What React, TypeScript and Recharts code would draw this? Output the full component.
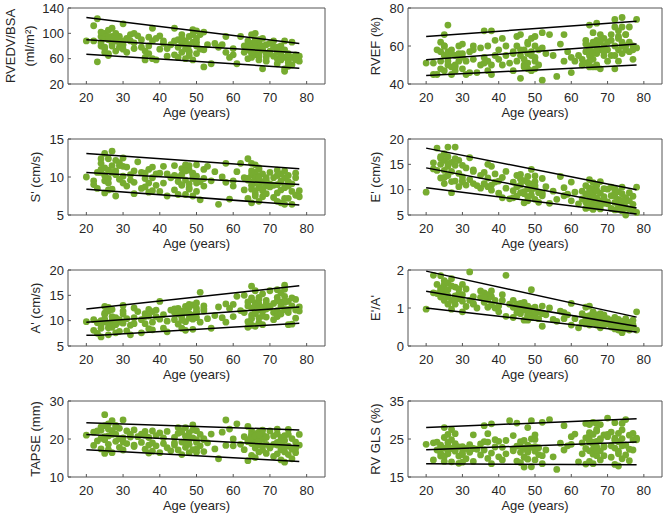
import React from 'react';
import { ComposedChart, Scatter, XAxis, YAxis } from 'recharts';

// Age of each subject (shared by all panels)
const ages = [
  20, 22, 22, 23, 23, 24, 24, 24, 25, 25, 25, 25, 26, 26, 26, 26, 27, 27, 27, 28, 28, 28, 29, 29, 29,
  30, 30, 30, 31, 31, 32, 32, 33, 33, 34, 35, 35, 36, 36, 37, 37, 37, 38, 38, 38, 39, 39,
  40, 40, 41, 41, 42, 42, 43, 44, 44, 45, 45, 45, 46, 46, 46, 47, 47, 47, 48, 48, 48, 48, 49, 49, 49,
  50, 50, 50, 50, 51, 51, 52, 52, 53, 54, 55, 56, 57, 58, 58, 59,
  60, 60, 61, 62, 63, 63, 64, 64, 64, 65, 65, 65, 65, 65, 66, 66, 66, 66, 66, 67, 67, 67, 67, 67, 68, 68, 68, 68, 69, 69, 69,
  70, 70, 71, 71, 71, 72, 72, 72, 72, 73, 73, 73, 73, 74, 74, 74, 74, 75, 75, 75, 76, 76, 76, 77, 77, 78, 78,
  24, 25, 26, 27, 28, 30, 33, 36, 44, 46, 47, 48, 49, 50, 52, 64, 65, 65, 66, 66, 67, 67, 68, 69, 70, 72, 73, 74, 75, 77,
];

const rvedv = [
  88, 112, 88, 123, 55, 80, 95, 85, 100, 70, 92, 78, 68, 90, 105, 65, 108, 80, 95, 100, 88, 72, 95, 78, 85,
  115, 82, 75, 92, 70, 88, 98, 100, 85, 96, 78, 90, 62, 58, 80, 94, 68, 108, 60, 88, 58, 92,
  96, 75, 84, 88, 64, 76, 82, 108, 66, 90, 78, 62, 98, 84, 70, 76, 88, 60, 95, 72, 82, 65, 106, 58, 86,
  104, 80, 92, 68, 75, 98, 102, 47, 82, 52, 84, 78, 82, 70, 95, 62,
  76, 66, 52, 95, 80, 70, 60, 88, 74, 98, 84, 68, 76, 62, 100, 72, 80, 90, 66, 78, 64, 86, 70, 58, 92, 44, 74, 80, 68, 56, 82,
  72, 84, 64, 78, 88, 60, 70, 75, 52, 66, 80, 58, 72, 88, 44, 62, 40, 58, 68, 54, 62, 86, 50, 60, 66, 64, 56,
  102, 76, 95, 84, 92, 88, 76, 72, 88, 92, 82, 70, 98, 86, 74, 82, 70, 80, 86, 76, 66, 90, 74, 62, 68, 78, 62, 74, 48, 58,
];

const rvef = [
  51, 51, 45, 58, 45, 62, 57, 52, 66, 55, 47, 60, 71, 50, 57, 54, 45, 49, 58, 50, 55, 47, 60, 56, 52,
  61, 56, 48, 45, 52, 57, 46, 53, 58, 46, 50, 59, 68, 54, 60, 52, 47, 68, 50, 45, 63, 55,
  53, 58, 64, 50, 60, 55, 51, 57, 47, 65, 52, 60, 66, 43, 55, 50, 58, 53, 48, 62, 56, 51, 47, 64, 55,
  65, 54, 60, 48, 50, 58, 67, 42, 56, 66, 55, 44, 61, 66, 52, 57,
  54, 46, 52, 55, 53, 50, 61, 57, 51, 71, 60, 55, 49, 58, 67, 62, 57, 53, 49, 60, 72, 56, 63, 50, 58, 48, 62, 66, 60, 55, 64,
  58, 52, 63, 55, 66, 74, 70, 48, 60, 65, 58, 52, 68, 75, 62, 56, 70, 66, 58, 60, 62, 57, 70, 53, 60, 74, 59,
  48, 60, 52, 56, 49, 54, 60, 51, 56, 58, 49, 61, 57, 52, 59, 63, 59, 52, 61, 56, 58, 49, 63, 57, 62, 55, 64, 60, 66, 58,
];

const sPrime = [
  10, 9.5, 9, 10.6, 8.5, 12.4, 11, 10.6, 13.1, 9.5, 7.9, 11.2, 10.9, 8.3, 12.4, 9.8, 13.4, 10.6, 8.4, 12.2, 7.5, 10.3, 11.5, 9.7, 11.9,
  12.5, 10.1, 11.4, 8.8, 11.3, 9.6, 10.3, 7.8, 9.3, 12, 8.5, 10.6, 10.5, 9.8, 9.2, 11, 8, 11.3, 8.2, 9.9, 10.4, 8.9,
  10.5, 8.1, 11.4, 9.2, 7.5, 10.4, 9.9, 11.5, 8.3, 10, 9.4, 7.7, 11.1, 10.3, 8.9, 11.6, 9.6, 7.7, 10.9, 9.1, 11.5, 8.4, 10.3, 7.5, 9.8,
  11.6, 9.2, 10.1, 8.1, 9.4, 7, 11, 9.8, 11.4, 9.5, 10.7, 6.4, 10, 11.8, 9.3, 7.1,
  9.5, 8.8, 10.7, 11.8, 9.9, 8.3, 12.4, 7.2, 9.6, 11.8, 10.3, 6.6, 8.9, 9.4, 11.6, 9.8, 7.5, 10.6, 8.2, 9.1, 6.8, 10.1, 8.6, 11.2, 8.2, 10.4, 7.4, 9.4, 9.9, 7.8, 8.8,
  10.6, 8.7, 9.9, 7.3, 8.9, 10.2, 9, 6.8, 10.9, 8.3, 6.6, 10.4, 9.5, 10.8, 6.4, 9.9, 8.6, 10.2, 7.2, 9.4, 6.4, 9.1, 8.1, 10.5, 7.6, 8.2, 7.4,
  11.8, 10.2, 9.2, 11.5, 10.8, 9.2, 10.8, 8.7, 10.2, 9, 10.8, 8.6, 10.5, 9.6, 8.8, 9.8, 8.4, 10.8, 9.2, 7.8, 9.9, 11, 8.5, 9.6, 9.1, 7.9, 9.3, 7.2, 8.8, 9.9,
];

const ePrime = [
  9.5, 15.3, 14.1, 18.2, 13.8, 16.2, 15, 12.3, 17.1, 13.8, 11.2, 15.8, 18.4, 16.5, 12.8, 14.6, 15.4, 11.6, 9.4, 18.4, 14.8, 11.7, 13.2, 10.6, 15.8,
  14.8, 12.5, 11.5, 10.9, 14.3, 12, 16.3, 11.2, 13.6, 10.8, 12.8, 10.3, 13.4, 11.1, 15, 10.6, 12.3, 14.6, 10.9, 9.9, 11.5, 13.1,
  11.7, 9.3, 8.4, 12.4, 13.6, 10.3, 8.2, 11.5, 8.4, 12.8, 10.6, 8.7, 13, 9.4, 10.9, 7.4, 11.8, 9.2, 12.6, 8.6, 10.2, 7.8, 14, 9.9, 11.1,
  12.7, 10.3, 8.1, 11.6, 9.4, 7.5, 12.2, 8.8, 10.6, 7.3, 9.7, 8.1, 12.6, 8.8, 10.4, 9.1,
  11.5, 7.8, 9.5, 7.2, 8.2, 9.7, 10.8, 7.5, 6.3, 12, 10.3, 8.1, 6.5, 9.2, 11.4, 8.9, 7.2, 6.1, 10.1, 8.4, 9.8, 7, 6.6, 10.8, 11.6, 7.8, 9.3, 6.2, 8.6, 7.3, 10.2,
  10.1, 7.2, 8.8, 6.3, 10.5, 9.4, 7.5, 6, 10.2, 8.1, 6.5, 9.6, 7, 9.2, 5.8, 10.5, 6.9, 5, 8.4, 7.6, 6.2, 9.4, 7.8, 8.7, 5.9, 10.5, 5.5,
  16.5, 12.4, 15.2, 13.6, 16.1, 11.8, 13.9, 11.2, 9.8, 12.1, 9.6, 11.4, 8.9, 10.8, 9.3, 9.1, 7.2, 9.6, 6.8, 8.4, 7.3, 9.8, 6.9, 8.2, 7.6, 8.8, 6.1, 7.9, 6.4, 7.1,
];

const aPrime = [
  9.8, 10.2, 8.1, 7.5, 9.6, 6.8, 10, 8.5, 12.8, 11.5, 9.8, 10.3, 12.6, 9.4, 11.9, 7.2, 10, 8.7, 12.2, 7.6, 9.2, 10.6, 9.7, 7.9, 10.2,
  13, 11.3, 9.5, 8, 10.4, 7.2, 9.1, 12.5, 10.6, 11.8, 7.6, 10.2, 9.4, 11.4, 8.4, 10.9, 12.2, 11.8, 8.2, 9.7, 10.8, 12.1,
  13.8, 10.3, 8.5, 11.2, 7.8, 9.9, 12.1, 11.6, 10.2, 11.3, 9.3, 12.4, 10.7, 8.5, 11.9, 12.8, 9.8, 8.1, 13.2, 11.4, 10.5, 12.6, 11.1, 13.1, 8.3,
  13.5, 11.8, 10.6, 12.4, 15.6, 9.7, 11.9, 12.9, 10.4, 8.5, 11, 12.7, 10.6, 13.3, 9.7, 12.4,
  13.2, 10.8, 14.8, 12, 11.6, 15, 13.7, 9.8, 8.7, 16.8, 12.5, 10.4, 14.5, 9.1, 11.4, 13.5, 8.9, 12.8, 15.9, 10.6, 14.2, 9.6, 12.1, 13.3, 11.8, 9.2, 15.3, 12.6, 10.7, 14, 12.3,
  15.9, 12.6, 13.4, 10.2, 11.6, 14.6, 12, 16.1, 10.8, 13.7, 15.5, 11.3, 12.9, 17, 14.8, 12.2, 16.2, 11.6, 13.8, 9.2, 12.9, 9.3, 14.5, 10.5, 12.1, 12.7, 11.9,
  9.1, 11.2, 8.6, 10.8, 9.9, 11.9, 9.4, 10.8, 12.3, 10.1, 11.7, 12.9, 10.3, 11.5, 12.3, 12.9, 11.1, 14.1, 13, 11.6, 12.4, 14.6, 10.9, 13.4, 12.8, 13.9, 11.5, 13.6, 12.2, 14.2,
];

const eaRatio = [
  0.97, 1.86, 1.4, 1.62, 1.38, 1.85, 1.52, 1.29, 1.62, 1.38, 1.2, 1.48, 1.48, 1.1, 1.3, 1.66, 1.77, 1.2, 0.97, 1.55, 1.32, 1.1, 1.5, 1.25, 1.38,
  1.62, 1.18, 0.9, 1.5, 1.04, 1.95, 1.2, 1.1, 1.3, 1, 1.28, 1.45, 1.4, 1.15, 1.02, 1.35, 1.22, 1.3, 1.08, 1.45, 1.2, 1,
  1.05, 0.9, 1.2, 1.35, 1.86, 0.78, 1.1, 1.2, 0.75, 0.98, 1.1, 0.88, 1.12, 0.85, 1, 0.95, 0.68, 1.05, 0.9, 0.78, 1.05, 0.68, 1.48, 0.92, 0.75,
  0.95, 0.78, 0.88, 1.02, 0.72, 0.9, 1.05, 0.52, 0.82, 1, 0.7, 0.65, 0.92, 0.88, 0.72, 0.82,
  1.12, 0.55, 0.72, 0.48, 0.85, 0.62, 1.02, 0.7, 0.58, 1.05, 0.8, 0.68, 0.55, 0.62, 0.82, 0.7, 0.6, 0.75, 0.9, 0.78, 0.62, 0.55, 0.82, 0.7, 0.85, 0.65, 0.48, 0.75, 0.7, 0.55, 0.82,
  0.72, 0.58, 0.68, 0.5, 0.6, 0.75, 0.55, 0.45, 0.65, 0.62, 0.48, 0.7, 0.42, 0.55, 0.35, 0.5, 0.65, 0.72, 0.48, 0.58, 0.62, 0.42, 0.55, 0.68, 0.5, 0.9, 0.42,
  1.45, 1.72, 1.32, 1.58, 1.22, 1.35, 1.12, 1.28, 1.02, 0.95, 1.15, 0.82, 0.98, 0.9, 0.85, 0.78, 0.66, 0.72, 0.88, 0.62, 0.72, 0.68, 0.6, 0.78, 0.66, 0.58, 0.5, 0.62, 0.45, 0.56,
];

const tapse = [
  21, 18.3, 21.8, 19.5, 22.1, 17.4, 22.3, 20.2, 26.4, 16.2, 23.5, 19.8, 22.6, 17.2, 24, 20.8, 24.8, 16.4, 22.2, 23.1, 19.4, 21.3, 22.8, 17.8, 20.1,
  25, 19.2, 17.1, 22.1, 18.8, 20.5, 21.2, 18, 22.4, 20.6, 19.1, 21.3, 17.3, 22, 16.3, 20.4, 18.4, 22.1, 16.8, 19, 18.2, 20.9,
  16.4, 21.6, 18.8, 20.3, 22, 17.7, 16.9, 20.4, 18.4, 23, 17.1, 21.5, 19.2, 22.2, 15.9, 20.7, 17.8, 23, 18.6, 21.7, 16.4, 19.9, 23.7, 20.3, 17.2,
  22.2, 17.3, 19.8, 16.5, 21.2, 18.2, 20.1, 16.7, 19, 21.3, 17.4, 14.8, 21.8, 25, 18.3, 22.6,
  18.2, 20, 24, 18.6, 20.6, 17.2, 23.3, 14.3, 19.3, 21.2, 20.4, 18.8, 15.7, 22.1, 20.7, 19.6, 17.6, 21.4, 15.1, 20.1, 21.8, 18.5, 16.6, 19.4, 21.2, 17.1, 19.9, 22.3, 18.6, 20.6, 16.2,
  22.1, 17.6, 20.8, 18.6, 15.4, 21.4, 16.1, 19.1, 22.6, 20.4, 17.2, 14.5, 18.8, 20.9, 13.9, 16.6, 19.6, 22.5, 15.9, 18.1, 17.3, 14.8, 20.1, 19.2, 16.4, 21.2, 18.4,
  23.2, 20.6, 18.6, 21.2, 23.6, 20.3, 18.4, 21, 19, 21.8, 18.9, 20.2, 22.4, 19.1, 19.8, 19.8, 21, 20.2, 20.8, 18.9, 19.5, 21.1, 18.2, 20.4, 17.9, 18.4, 19.4, 17.9, 21.2, 17.5,
];

const rvGls = [
  23.6, 19.5, 24, 24.2, 22.1, 21.3, 23.4, 20.5, 28, 25.4, 22.6, 19.1, 24.1, 21.1, 23.1, 26.2, 27.5, 19, 22.5, 26.4, 21.8, 23.8, 18.6, 22.9, 20.5,
  23, 20.9, 18.9, 22.5, 19.8, 23.5, 21.5, 26.1, 19.1, 22.3, 20.8, 23.7, 28.5, 22.1, 26.4, 19.9, 24.2, 29, 18.5, 21.3, 24.8, 22.9,
  24.4, 20.3, 22.8, 19.5, 24.6, 21.1, 29.8, 25.9, 22.4, 29.2, 23.1, 19.2, 21.5, 24.3, 18.8, 22.5, 17.6, 20.2, 28, 23.4, 19.7, 21.9, 25, 29.8, 17.7,
  24.9, 21.8, 19.5, 23, 20.9, 22.7, 29.4, 18.5, 22.1, 30.1, 20.3, 17, 23.9, 28.5, 22.1, 23.2,
  25.6, 23.6, 26.3, 19, 24, 21.1, 29.1, 25.3, 18.4, 28.8, 24.2, 21.9, 19.1, 25.9, 29.4, 22.2, 18.5, 26.2, 23.7, 29.1, 24.4, 20.6, 22.9, 27.1, 28.8, 19.5, 24.8, 21.9, 23.1, 26.1, 20.6,
  30.5, 25.6, 23.2, 20.2, 26.8, 25.2, 18.3, 22.6, 29.3, 21.1, 17.9, 24.3, 26.5, 23.2, 29.1, 19.8, 25.1, 30.1, 23.4, 20.8, 22.3, 19.3, 26, 26.5, 24.8, 25.2, 24.8,
  22.8, 20.4, 21.6, 24.8, 23.5, 21.4, 22.5, 24.3, 21.9, 23.1, 24.6, 21.5, 22.8, 26.1, 20.6, 22.5, 26.7, 24.7, 21, 24.2, 27.5, 22.1, 25.1, 22.9, 26.2, 24.7, 21.8, 27.4, 23.4, 22.1,
];

// Reference lines (upper limit, mean, lower limit) at their end ages
const lineAges = [20, 78];
const aLowerAges = [20, 23.5, 78];

const rvedvUpper = [125, 84];
const rvedvMean = [90, 69.5];
const rvedvLower = [67, 45];
const rvefUpper = [65, 73];
const rvefMean = [52.8, 61];
const rvefLower = [44.5, 50];
const sUpper = [13.1, 11.1];
const sMean = [10.6, 9];
const sLower = [8.4, 6.3];
const eUpper = [18.2, 10];
const eMean = [14.3, 6.4];
const eLower = [10.4, 5.2];
const aUpper = [12.3, 16.9];
const aMean = [9.7, 12.7];
const aLower = [7.1, 7.1, 9.5];
const eaUpper = [1.97, 0.76];
const eaMean = [1.44, 0.52];
const eaLower = [1.0, 0.37];
const tapseUpper = [24.3, 22.4];
const tapseMean = [21.2, 18.2];
const tapseLower = [17.2, 14.1];
const glsUpper = [28, 30.3];
const glsMean = [22.2, 24.2];
const glsLower = [18.5, 18.2];

// Axis ticks
const xTicks = [20, 30, 40, 50, 60, 70, 80];
const xDomain: [number, number] = [15, 85];
const rvedvTicks = [20, 60, 100, 140];
const rvefTicks = [40, 60, 80];
const sTicks = [5, 10, 15];
const eTicks = [5, 10, 15, 20];
const aTicks = [5, 10, 15, 20];
const eaTicks = [0, 1, 2];
const tapseTicks = [10, 20, 30];
const glsTicks = [15, 25, 35];

const xLabel = 'Age (years)';

type LineDef = { x: number[]; y: number[] };
type PanelDef = {
  values: number[];
  lines: LineDef[];
  ticks: number[];
  title: string[];
  col: number;
  row: number;
};

const panels: PanelDef[] = [
  { values: rvedv, lines: [{ x: lineAges, y: rvedvUpper }, { x: lineAges, y: rvedvMean }, { x: lineAges, y: rvedvLower }], ticks: rvedvTicks, title: ['RVEDV/BSA', '(ml/m²)'], col: 0, row: 0 },
  { values: rvef, lines: [{ x: lineAges, y: rvefUpper }, { x: lineAges, y: rvefMean }, { x: lineAges, y: rvefLower }], ticks: rvefTicks, title: ['RVEF (%)'], col: 1, row: 0 },
  { values: sPrime, lines: [{ x: lineAges, y: sUpper }, { x: lineAges, y: sMean }, { x: lineAges, y: sLower }], ticks: sTicks, title: ["S' (cm/s)"], col: 0, row: 1 },
  { values: ePrime, lines: [{ x: lineAges, y: eUpper }, { x: lineAges, y: eMean }, { x: lineAges, y: eLower }], ticks: eTicks, title: ["E' (cm/s)"], col: 1, row: 1 },
  { values: aPrime, lines: [{ x: lineAges, y: aUpper }, { x: lineAges, y: aMean }, { x: aLowerAges, y: aLower }], ticks: aTicks, title: ["A' (cm/s)"], col: 0, row: 2 },
  { values: eaRatio, lines: [{ x: lineAges, y: eaUpper }, { x: lineAges, y: eaMean }, { x: lineAges, y: eaLower }], ticks: eaTicks, title: ["E'/A'"], col: 1, row: 2 },
  { values: tapse, lines: [{ x: lineAges, y: tapseUpper }, { x: lineAges, y: tapseMean }, { x: lineAges, y: tapseLower }], ticks: tapseTicks, title: ['TAPSE (mm)'], col: 0, row: 3 },
  { values: rvGls, lines: [{ x: lineAges, y: glsUpper }, { x: lineAges, y: glsMean }, { x: lineAges, y: glsLower }], ticks: glsTicks, title: ['RV GLS (%)'], col: 1, row: 3 },
];

// Styling / layout
const FONT = '"Liberation Sans", Arial, Helvetica, sans-serif';
const TEXT = '#262626';
const AXIS = '#555555';
const GREEN = '#77AC30';
const FS = 13;

const COLS = [
  { left: 0, width: 335, pl: 68, pw: 257 },
  { left: 335, width: 334, pl: 73, pw: 254 },
];
const ROW_TOPS = [0, 131, 262, 393];
const CH = 125;
const PT = 8;
const PH = 76;
const XH = 40;
const AW = 1; // thickness reserved for the mirrored / left axes

const tickStyle = { fontSize: FS, fill: TEXT, fontFamily: FONT };

const Panel = ({ p }: { p: PanelDef }) => {
  const c = COLS[p.col];
  const top = ROW_TOPS[p.row];
  const mr = c.width - c.pl - c.pw - AW;
  const mb = CH - PT - PH - XH;
  const yDomain: [number, number] = [p.ticks[0], p.ticks[p.ticks.length - 1]];
  const pts = ages.map((a, i) => ({ x: a, y: p.values[i] }));
  const xCenter = c.pl + c.pw / 2;
  const yMid = PT + PH / 2;

  const xTitle = () => (
    <text x={xCenter} y={PT + PH + 33} textAnchor="middle" fontSize={FS} fontFamily={FONT} fill={TEXT}>
      {xLabel}
    </text>
  );
  const yTitle = () => (
    <g>
      {p.title.map((t, i) => {
        const cx = p.title.length === 1 ? c.pl - 33 : c.pl - (i === 0 ? 58 : 39);
        return (
          <text
            key={i}
            x={cx}
            y={yMid}
            transform={`rotate(-90, ${cx}, ${yMid})`}
            textAnchor="middle"
            dy="0.35em"
            fontSize={FS}
            fontFamily={FONT}
            fill={TEXT}
          >
            {t}
          </text>
        );
      })}
    </g>
  );

  return (
    <div style={{ position: 'absolute', left: c.left, top, width: c.width, height: CH }}>
      <ComposedChart width={c.width} height={CH} margin={{ top: PT - AW, right: mr, bottom: mb, left: c.pl - AW }}>
        <XAxis
          xAxisId="x"
          type="number"
          dataKey="x"
          domain={xDomain}
          ticks={xTicks}
          interval={0}
          height={XH}
          tickSize={-3}
          tickMargin={12}
          tick={tickStyle}
          tickLine={{ stroke: AXIS }}
          axisLine={{ stroke: AXIS }}
          label={{ value: xLabel, content: xTitle }}
        />
        <XAxis
          xAxisId="xt"
          orientation="top"
          type="number"
          dataKey="x"
          domain={xDomain}
          ticks={xTicks}
          interval={0}
          height={AW}
          tickSize={-3}
          tick={false}
          tickLine={{ stroke: AXIS }}
          axisLine={{ stroke: AXIS }}
        />
        <YAxis
          yAxisId="y"
          type="number"
          dataKey="y"
          domain={yDomain}
          ticks={p.ticks}
          interval={0}
          width={AW}
          tickSize={-3}
          tickMargin={7}
          tick={tickStyle}
          tickLine={{ stroke: AXIS }}
          axisLine={{ stroke: AXIS }}
          label={{ value: p.title.join(' '), content: yTitle }}
        />
        <YAxis
          yAxisId="yr"
          orientation="right"
          type="number"
          dataKey="y"
          domain={yDomain}
          ticks={p.ticks}
          interval={0}
          width={AW}
          tickSize={-3}
          tick={false}
          tickLine={{ stroke: AXIS }}
          axisLine={{ stroke: AXIS }}
        />
        <Scatter
          xAxisId="x"
          yAxisId="y"
          data={pts}
          isAnimationActive={false}
          shape={(s: any) => <circle cx={s.cx} cy={s.cy} r={3.4} fill={GREEN} />}
        />
        {p.lines.map((l, i) => (
          <Scatter
            key={i}
            xAxisId="x"
            yAxisId="y"
            data={l.x.map((a, j) => ({ x: a, y: l.y[j] }))}
            isAnimationActive={false}
            line={{ stroke: '#000', strokeWidth: 1.5 }}
            lineType="joint"
            shape={() => <g />}
          />
        ))}
      </ComposedChart>
    </div>
  );
}

export default function App() {
  return (
    <div style={{ position: 'absolute', left: 0, top: 0, width: 669, height: 518, background: '#fff', overflow: 'hidden' }}>
      {panels.map((p, i) => (
        <Panel key={i} p={p} />
      ))}
    </div>
  );
}
